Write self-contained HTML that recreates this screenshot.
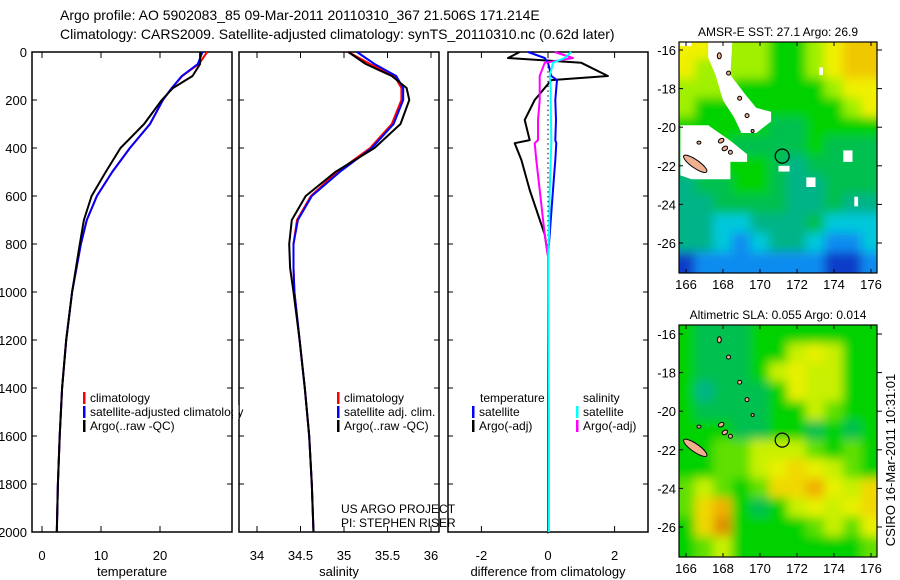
<!DOCTYPE html>
<html><head><meta charset="utf-8"><style>
body{margin:0;background:#fff}
svg{display:block;font-family:"Liberation Sans",sans-serif}
</style></head><body>
<svg id="c" width="900" height="580" viewBox="0 0 900 580">
<defs><filter id="blr" x="-10%" y="-10%" width="120%" height="120%"><feGaussianBlur stdDeviation="5" edgeMode="duplicate"/></filter></defs>
<text x="60" y="20" font-size="14">Argo profile: AO 5902083_85 09-Mar-2011 20110310_367 21.506S 171.214E</text>
<text x="60" y="39" font-size="14">Climatology: CARS2009. Satellite-adjusted climatology: synTS_20110310.nc (0.62d later)</text>
<g id="g"></g>
</svg>
<script>
// ---- data ----
const depthsT = [0,50,100,150,200,300,400,500,600,700,800,1000,1200,1400,1600,1800,2000];
const tempClim = [28,26.6,23.8,22,20.5,18.3,14.9,11.9,9.3,7.6,6.6,5.1,4.1,3.4,3.0,2.7,2.5];
const tempSat  = [27.2,26.4,23.7,22,20.5,18.3,14.9,11.9,9.3,7.6,6.6,5.1,4.1,3.4,3.0,2.7,2.5];
const tempArgo = [26.8,26.8,25.5,22.2,20.3,17.3,13.3,10.8,8.4,7.1,6.4,5.1,4.1,3.4,3.0,2.7,2.5];
const depthsS = [0,50,100,150,200,300,400,500,600,700,800,900,1000,1200,1400,1600,1800,2000];
const salClim = [35.05,35.3,35.58,35.66,35.66,35.55,35.3,34.92,34.62,34.46,34.42,34.42,34.43,34.49,34.55,34.6,34.63,34.65];
const salSat  = [35.15,35.35,35.6,35.68,35.68,35.57,35.32,34.95,34.63,34.47,34.42,34.42,34.43,34.49,34.55,34.6,34.63,34.65];
const salArgo = [35.05,35.25,35.55,35.72,35.75,35.65,35.35,34.9,34.56,34.4,34.37,34.38,34.42,34.49,34.55,34.6,34.63,34.65];
const depthsD = [0,25,45,100,117,150,200,283,367,380,450,575,760,850,1000,1500,2000];
const diffTArgo = [-0.85,-1.2,1.0,1.8,0.1,-0.1,-0.4,-0.7,-0.55,-1.0,-0.8,-0.55,-0.1,0,0,0,0];
const diffSArgo = [0.2,0.75,-0.1,-0.25,-0.25,-0.25,-0.25,-0.3,-0.3,-0.4,-0.35,-0.25,-0.1,0,0,0.02,0.02];
const diffTSat  = [-0.6,-0.1,0,0.1,0.27,0.25,0.22,0.24,0.22,0.25,0.22,0.15,0.05,0,0,0,0];
const diffSSat  = [0.7,0.5,0.15,0.05,0.06,0.08,0.08,0.09,0.1,0.1,0.08,0.05,0.03,0.01,0.01,0.02,0.02];
const depthTicks = [0,200,400,600,800,1000,1200,1400,1600,1800,2000];
const tempTicks=[0,10,20], salTicks=[34,34.5,35,35.5,36], diffTicks=[-2,0,2];
const mapLats=[16,18,20,22,24,26], mapLons=[166,168,170,172,174,176];
const sstGrid=[
"55444334566",
"54444334566",
"44433333455",
"43333333345",
"33333AA3333",
"333AAAA3AAA",
"AA333A2AAAA",
"2AA33A22AAA",
"22AAAA22A22",
"22BB222ABBB",
"22B1B22B11B",
"01111111001"];
const slaGrid=[
"3AAA3333333",
"3AAA33DED33",
"3AAA3DEDD33",
"32AAA3EDD33",
"3AAAA33DC33",
"333AA33A3A3",
"33CCDDDC3C3",
"33CCDEFEDC3",
"CDC3CFFGEDF",
"CFG3A3DEDEF",
"3FH3333CDCE",
"3CD3333333C"];
// ---- helpers ----
const NS="http://www.w3.org/2000/svg", G=document.getElementById('g');
function el(t,a,txt,par){const e=document.createElementNS(NS,t);for(const k in a)e.setAttribute(k,a[k]);if(txt!==undefined&&txt!==null)e.textContent=txt;(par||G).appendChild(e);return e;}
const yD=p=>52+0.24*p;
const xT=v=>42+5.9*v, xS=v=>257+87*(v-34), xDf=v=>548+33.3*v;
function panel(x0,x1,ticks,fx,label,name){
  const r=el('rect',{x:x0,y:52,width:x1-x0,height:480,fill:'none',stroke:'#000','stroke-width':1.5});
  
  ticks.forEach(t=>{const x=fx(t);
    el('line',{x1:x,x2:x,y1:52,y2:58,stroke:'#000'});el('line',{x1:x,x2:x,y1:526,y2:532,stroke:'#000'});
    const tx=el('text',{x:x,y:560,'font-size':13,'text-anchor':'middle'},String(t));
    });
  depthTicks.forEach(d=>{const y=yD(d);el('line',{x1:x0,x2:x0+5,y1:y,y2:y,stroke:'#000'});el('line',{x1:x1-5,x2:x1,y1:y,y2:y,stroke:'#000'});});
  const lt=el('text',{x:(x0+x1)/2,y:576,'font-size':13,'text-anchor':'middle'},label);
  
}
function line(ds,vs,fx,col,name,w){
  const pts=ds.map((d,i)=>fx(vs[i]).toFixed(1)+','+yD(d).toFixed(1)).join(' ');
  const p=el('polyline',{points:pts,fill:'none',stroke:col,'stroke-width':w||2,'stroke-linejoin':'round'});
  
}
panel(32,232,tempTicks,xT,'temperature','temperature-panel');
panel(239,439,salTicks,xS,'salinity','salinity-panel');
panel(448,648,diffTicks,xDf,'difference from climatology','difference-panel');
depthTicks.forEach(d=>{const t=el('text',{x:27,y:yD(d)+5,'font-size':13,'text-anchor':'end'},String(d));
  });
line(depthsT,tempClim,xT,'#f00','temp-climatology-line');
line(depthsT,tempSat,xT,'#00f','temp-satellite-line');
line(depthsT,tempArgo,xT,'#000','temp-argo-line');
line(depthsS,salClim,xS,'#f00','sal-climatology-line');
line(depthsS,salSat,xS,'#00f','sal-satellite-line');
line(depthsS,salArgo,xS,'#000','sal-argo-line');
for(let d=0;d<=2000;d+=20){el('rect',{x:xDf(0)-0.5,y:yD(d),width:1,height:1.5,fill:'#000'});}
line(depthsD,diffTArgo,xDf,'#000','diff-temp-argo-line');
line(depthsD,diffTSat,xDf,'#00f','diff-temp-satellite-line');
line(depthsD,diffSArgo,xDf,'#f0f','diff-sal-argo-line');
line(depthsD,diffSSat,xDf,'#0ff','diff-sal-satellite-line');
function leg(x,y,col,txt,name){el('rect',{x:x,y:y-10,width:2.5,height:12,fill:col});
  const t=el('text',{x:x+7,y:y,'font-size':12},txt);}
leg(83,402,'#f00','climatology','legend-climatology');
const lt=el('text',{x:90,y:416,'font-size':12},'satellite-adjusted climatology');

el('rect',{x:83,y:406,width:2.5,height:12,fill:'#00f'});
el('rect',{x:233,y:405,width:5.5,height:14,fill:'#fff'});
leg(83,430,'#000','Argo(..raw -QC)','legend-argo-temp');
leg(337,402,'#f00','climatology','legend-sal-climatology');
leg(337,416,'#00f','satellite adj. clim.','legend-sal-satellite');
leg(337,430,'#000','Argo(..raw -QC)','legend-sal-argo');
let t1=el('text',{x:480,y:402,'font-size':12},'temperature');
let t2=el('text',{x:583,y:402,'font-size':12},'salinity');
leg(472,416,'#00f','satellite','legend-diff-temp-satellite');
leg(472,430,'#000','Argo(-adj)','legend-diff-temp-argo');
leg(576,416,'#0ff','satellite','legend-diff-sal-satellite');
leg(576,430,'#f0f','Argo(-adj)','legend-diff-sal-argo');
let c1=el('text',{x:341,y:513,'font-size':12},'US ARGO PROJECT');
let c2=el('text',{x:341,y:527,'font-size':12},'PI: STEPHEN RISER');
// ---- maps ----
const cmap={'0':'#0a3cc8','1':'#0a8cf0','B':'#00c8dc','2':'#00b488','A':'#00c050','3':'#00d200','C':'#60e000','4':'#a0f000','D':'#c8f000','E':'#e8f000','5':'#f0f000','F':'#f0d800','6':'#f0c800','G':'#f0b000','H':'#e09000'};
function map(top,bot,lat16,lat26,grid,title,name,whites){
  const x0=679,x1=877,xl=v=>686+18.5*(v-166),yl=v=>lat16+(lat26-lat16)*(v-16)/10;
  const dy=(lat26-lat16)/10;
  const cp=el('clipPath',{id:'clip-'+name});
  el('rect',{x:x0,y:top,width:x1-x0,height:bot-top},null,cp);
  const g=el('g',{'clip-path':'url(#clip-'+name+')'});
  
  const gb=el('g',{filter:'url(#blr)'},null,g);
  grid.forEach((row,r)=>{for(let c=0;c<row.length;c++){
    const lon=166+c, lat=16+r;
    let xa=xl(lon-0.5), ya=yl(lat-0.5), w=18.5, h=dy;
    if(c==0){xa-=20;w+=20;} if(c==row.length-1){w+=20;}
    if(r==0){ya-=20;h+=20;} if(r==grid.length-1){h+=20;}
    el('rect',{x:xa-0.5,y:ya-0.5,width:w+1,height:h+1,fill:cmap[row[c]]||'#00c800'},null,gb);}});
  (whites||[]).forEach(poly=>{el('polygon',{points:poly.map(p=>xl(p[0]).toFixed(1)+','+yl(p[1]).toFixed(1)).join(' '),fill:'#fff'},null,g);});
  [[166.5,21.9,14,4,-35],[167.9,20.7,3,2,30],[168.1,21.1,3,2,30],[168.4,21.3,2,2,0],[167.8,16.3,2,3,0],[168.3,17.2,2,2,0],[168.9,18.5,2,2,0],[169.3,19.4,2,2,0],[169.6,20.2,1.5,1.5,0],[166.7,20.8,2,1.5,0]].forEach(a=>{
    el('ellipse',{cx:xl(a[0]),cy:yl(a[1]),rx:a[2],ry:a[3],transform:'rotate('+(-a[4])+' '+xl(a[0])+' '+yl(a[1])+')',fill:'#f0b090',stroke:'#000','stroke-width':1},null,g);});
  const ci=el('circle',{cx:xl(171.2),cy:yl(21.5),r:7,fill:'none',stroke:'#000','stroke-width':1.2});
  
  el('rect',{x:x0,y:top,width:x1-x0,height:bot-top,fill:'none',stroke:'#000','stroke-width':1.2});
  mapLats.forEach(v=>{const y=yl(v);el('line',{x1:x0,x2:x0+4,y1:y,y2:y,stroke:'#000'});el('line',{x1:x1,x2:x1+5,y1:y,y2:y,stroke:'#000'});
    const t=el('text',{x:x0-3,y:y+5,'font-size':13,'text-anchor':'end'},'-'+v);});
  mapLons.forEach(v=>{const x=xl(v);el('line',{x1:x,x2:x,y1:top,y2:top+4,stroke:'#000'});el('line',{x1:x,x2:x,y1:bot-4,y2:bot,stroke:'#000'});
    const t=el('text',{x:x,y:bot+16,'font-size':13,'text-anchor':'middle'},String(v));});
  const tt=el('text',{x:(x0+x1)/2,y:top-6,'font-size':12,'text-anchor':'middle'},title);
  
}
const sstWhites=[
 [[165.7,15.5],[166.3,15.5],[166.3,15.8],[165.7,15.8]],
 [[167.2,15.3],[170.0,15.3],[170.0,15.6],[168.5,15.6],[168.4,17.3],[169.2,18.3],[169.8,19.0],[170.6,19.2],[170.6,19.7],[169.8,20.3],[169.0,20.3],[168.6,19.5],[168.0,18.6],[167.6,17.3],[167.2,16.4]],
 [[165.7,19.9],[167.2,19.9],[168.4,20.7],[169.3,21.4],[169.3,21.8],[168.4,21.8],[168.4,22.7],[166.3,22.7],[165.7,22.5]],
 [[173.2,16.9],[173.4,16.9],[173.4,17.3],[173.2,17.3]],
 [[174.5,21.2],[175.0,21.2],[175.0,21.8],[174.5,21.8]],
 [[171.0,22.0],[171.6,22.0],[171.6,22.3],[171.0,22.3]],
 [[172.5,22.6],[173.0,22.6],[173.0,23.1],[172.5,23.1]],
 [[175.1,23.6],[175.3,23.6],[175.3,24.1],[175.1,24.1]]];
map(42,273,50,243,sstGrid,'AMSR-E SST: 27.1 Argo: 26.9','sst-map',sstWhites);
map(325,557,334,527,slaGrid,'Altimetric SLA: 0.055 Argo: 0.014','sla-map',[]);
const st=el('text',{x:0,y:0,'font-size':13,'text-anchor':'middle',transform:'translate(895,460) rotate(-90)'},'CSIRO 16-Mar-2011 10:31:01');

</script>
</body></html>
